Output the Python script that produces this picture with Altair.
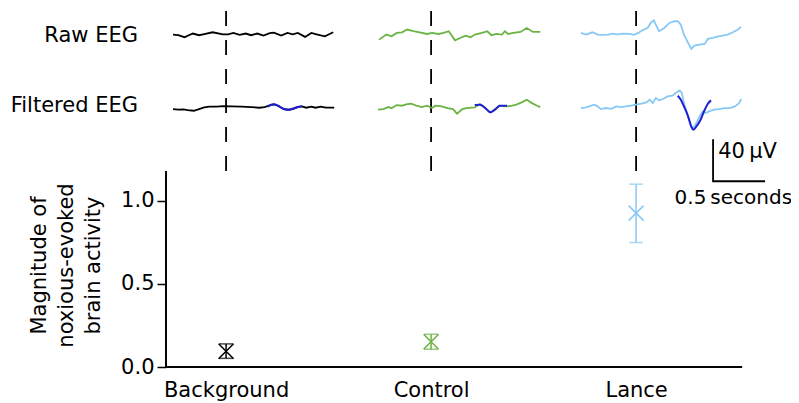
import altair as alt
import pandas as pd

# ---------------- data ----------------
CONDITIONS = ["Background", "Control", "Lance"]
COLORS = ["#000000", "#6ab344", "#87c9f5"]
TEMPLATE_COLOR = "#1f1fd6"

# magnitude of noxious-evoked brain activity (mean and error-bar limits)
MEAN = [0.095, 0.152, 0.926]
LOW = [0.052, 0.107, 0.749]
HIGH = [0.139, 0.197, 1.10]

ROW_NAMES = ["Raw EEG", "Filtered EEG"]

# EEG traces: time (s, relative to stimulus) and voltage (µV)
BG_RAW_T = [-0.51, -0.46, -0.40, -0.32, -0.26, -0.22, -0.13, -0.03, 0.02, 0.07, 0.13, 0.19, 0.24,
            0.30, 0.36, 0.42, 0.46, 0.53, 0.59, 0.64, 0.69, 0.76, 0.82, 0.87, 0.95, 1.03]
BG_RAW_V = [0.0, -0.6, -2.5, 1.0, -0.6, 0.3, 2.2, 0.3, 0.3, 1.6, -0.3, 1.0, -0.6,
            1.0, -1.0, 1.3, 1.9, -1.0, 1.6, 0.3, 1.6, -2.2, 1.6, 0.3, -1.6, 2.2]
BG_FILT_T = [-0.51, -0.46, -0.41, -0.37, -0.31, -0.26, -0.21, -0.16, -0.09, -0.03, 0.05, 0.15, 0.24,
             0.32, 0.37, 0.42, 0.46, 0.50, 0.55, 0.60, 0.64, 0.69, 0.73, 0.77, 0.82, 0.86, 0.91, 0.96, 1.04]
BG_FILT_V = [-1.3, -1.9, -1.6, -2.2, -2.9, -1.3, 0.3, 1.0, 1.0, 1.6, 1.3, 1.0, 0.6,
             0.0, 0.6, 2.2, 3.2, 1.9, -1.0, -1.9, -1.3, 0.6, 1.3, 0.0, 1.0, 0.0, 1.0, 0.0, 0.0]
BG_TPL_T = [0.40, 0.42, 0.46, 0.50, 0.55, 0.58, 0.62, 0.66, 0.70, 0.73]
BG_TPL_V = [1.0, 2.2, 3.2, 1.9, -1.0, -1.9, -1.6, -0.3, 1.0, 1.3]

CT_RAW_T = [-0.50, -0.43, -0.38, -0.33, -0.28, -0.23, -0.17, -0.11, -0.04, 0.01, 0.07, 0.12, 0.17, 0.23,
            0.28, 0.33, 0.38, 0.42, 0.49, 0.54, 0.58, 0.63, 0.68, 0.71, 0.74, 0.79, 0.86, 0.92, 0.98, 1.05]
CT_RAW_V = [-4.8, 0.0, -1.6, 1.6, 2.2, 4.8, 3.2, 2.2, 0.6, 1.6, 0.6, 1.6, 3.2, -5.4,
            -3.2, -1.0, -2.5, 0.0, 1.6, 3.2, -0.6, 0.6, 0.0, 3.2, 0.6, 1.6, 2.5, 6.3, 2.5, 2.5]
CT_FILT_T = [-0.51, -0.46, -0.41, -0.38, -0.33, -0.28, -0.23, -0.19, -0.14, -0.09, -0.04, 0.01, 0.04,
             0.10, 0.16, 0.21, 0.25, 0.30, 0.34, 0.42, 0.47, 0.52, 0.57, 0.62, 0.66, 0.73, 0.78, 0.82,
             0.87, 0.92, 0.97, 1.02, 1.05]
CT_FILT_V = [-1.9, -1.3, 0.6, -0.6, 2.5, 1.9, 3.5, 3.8, 1.9, 0.6, 1.9, -0.3, 1.9,
             1.3, -0.3, -1.3, -5.7, -1.3, -0.3, 0.3, 3.5, -0.3, -4.4, -1.3, 1.9, 1.3, 1.9, 2.9,
             5.1, 7.6, 4.4, 1.9, 0.6]
CT_TPL_T = [0.42, 0.47, 0.52, 0.57, 0.62, 0.66, 0.73]
CT_TPL_V = [2.5, 2.9, -0.3, -4.4, -1.3, 1.9, 1.9]

LA_RAW_T = [-0.53, -0.48, -0.42, -0.37, -0.32, -0.27, -0.22, -0.18, -0.13, -0.06, -0.02, 0.02, 0.06,
            0.11, 0.14, 0.17, 0.19, 0.22, 0.27, 0.32, 0.37, 0.40, 0.43, 0.46, 0.50, 0.53, 0.56, 0.61,
            0.66, 0.69, 0.74, 0.79, 0.83, 0.88, 0.93, 0.98, 1.01]
LA_RAW_V = [1.6, 0.0, 2.2, 0.0, -0.3, 0.0, 1.0, 0.3, 1.0, 0.6, -0.3, 1.6, 4.1,
            6.3, 11.1, 13.7, 9.5, 3.2, 6.3, 11.1, 12.7, 12.7, 9.5, 0.0, -7.9, -13.7, -10.5, -9.5,
            -8.9, -4.1, -3.2, -1.6, -1.0, 0.0, 2.2, 4.8, 7.3]
LA_FILT_T = [-0.53, -0.48, -0.43, -0.40, -0.37, -0.34, -0.29, -0.24, -0.19, -0.14, -0.10, -0.05, 0.0,
             0.05, 0.10, 0.13, 0.16, 0.19, 0.22, 0.26, 0.30, 0.35, 0.38, 0.42, 0.44, 0.46, 0.50, 0.53,
             0.55, 0.58, 0.61, 0.64, 0.67, 0.70, 0.75, 0.80, 0.85, 0.90, 0.95, 0.99, 1.01]
LA_FILT_V = [-0.3, 0.3, 1.9, 2.9, 1.3, -1.3, -0.3, -1.0, 1.3, 0.6, 1.3, 1.9, 2.9,
             3.8, 5.1, 7.6, 4.4, 9.2, 7.0, 8.3, 10.8, 11.4, 14.0, 16.5, 14.0, 4.4, -8.3, -17.8,
             -19.4, -14.6, -8.3, -3.5, -5.1, -3.5, -1.9, -1.3, -0.3, -0.3, 1.3, 4.4, 8.3]
LA_TPL_T = [0.40, 0.43, 0.46, 0.50, 0.53, 0.55, 0.58, 0.62, 0.66, 0.69, 0.72]
LA_TPL_V = [11.4, 7.6, 1.3, -8.3, -17.8, -21.0, -17.8, -11.4, -1.9, 3.8, 7.0]

SCALE_SEC = 0.5
SCALE_UV = 40

# ---------------- layout helpers (not data) ----------------
ROW_BASE = [2.0, 1.56]          # vertical position of raw / filtered rows
ROW_LABEL_Y = [1.957, 1.536]
SEC_TO_X = 0.5073               # 1 s of trace in category units
UV_TO_Y = 0.006318              # 1 µV of trace in y units
FONT = "DejaVu Sans"
FS = 21
BAR_T0, BAR_V0 = 0.74, -70.0    # scale-bar corner in the Lance frame
X_MIN, X_AXIS_END, X_MAX = 0.707, 3.517, 3.658
Y_AXIS_TOP = 1.18

SERIES_DOMAIN = CONDITIONS + ["Template", "Scale"]
SERIES_RANGE = COLORS + [TEMPLATE_COLOR, "#000000"]
color_enc = alt.Color("series:N", scale=alt.Scale(domain=SERIES_DOMAIN, range=SERIES_RANGE), legend=None)

xs = alt.Scale(domain=[X_MIN, X_MAX], nice=False, zero=False)
ys = alt.Scale(domain=[0, 2.16], nice=False, zero=False)

label_expr = "[" + ",".join("'" + c + "'" for c in CONDITIONS) + "][datum.value - 1]"
x_axis = alt.Axis(values=[1, 2, 3], labelExpr=label_expr, title=None, ticks=False, grid=False,
                  domain=False, labelPadding=12, labelFontSize=FS,
                  labelColor="black", labelFont=FONT)
y_axis = alt.Axis(values=[0, 0.5, 1.0], format=".1f", domain=False, ticks=True, tickSize=9,
                  tickWidth=1.5, tickColor="black", labelPadding=3, grid=False,
                  labelFontSize=FS, labelColor="black", labelFont=FONT,
                  title=["Magnitude of", "noxious-evoked", "brain activity"],
                  titleAngle=270, titleX=-127, titleY=257, titleBaseline="middle",
                  titleAlign="center", titleFontWeight="normal", titleFontSize=FS,
                  titleFont=FONT, titleColor="black", titleLineHeight=27)

# ---------------- frames ----------------
traces = [
    (1, 0, BG_RAW_T, BG_RAW_V, "Background"), (1, 1, BG_FILT_T, BG_FILT_V, "Background"),
    (2, 0, CT_RAW_T, CT_RAW_V, "Control"), (2, 1, CT_FILT_T, CT_FILT_V, "Control"),
    (3, 0, LA_RAW_T, LA_RAW_V, "Lance"), (3, 1, LA_FILT_T, LA_FILT_V, "Lance"),
    # L-shaped scale bar, drawn as one more trace in the Lance frame
    (3, 1, [BAR_T0, BAR_T0, BAR_T0 + SCALE_SEC],
     [BAR_V0 + SCALE_UV, BAR_V0, BAR_V0], "Scale"),
]
templates = [
    (1, 1, BG_TPL_T, BG_TPL_V, "Template"), (2, 1, CT_TPL_T, CT_TPL_V, "Template"),
    (3, 1, LA_TPL_T, LA_TPL_V, "Template"),
]


def build(items, prefix):
    frames = []
    for k, (idx, row, t, v, s) in enumerate(items):
        frames.append(pd.DataFrame({"idx": idx, "base": ROW_BASE[row], "t": t, "v": v,
                                    "series": s, "trace": f"{prefix}{k}",
                                    "k": list(range(len(t)))}))
    return pd.concat(frames, ignore_index=True)


trace_df = build(traces, "tr")
tpl_df = build(templates, "tp")

err_df = pd.DataFrame({"series": CONDITIONS, "idx": [1, 2, 3], "mean": MEAN, "lo": LOW, "hi": HIGH})
row_df = pd.DataFrame({"name": ROW_NAMES, "y": ROW_LABEL_Y})

ann_df = pd.DataFrame({"idx": [3, 3], "base": [ROW_BASE[1]] * 2,
                       "t": [0.79, 0.935], "v": [-48.0, -92.0],
                       "label": [f"{SCALE_UV}\u2009µV", f"{SCALE_SEC}\u2009seconds"],
                       "align": ["left", "center"]})

pos_x = alt.X("x:Q", scale=xs, axis=x_axis)
pos_y = alt.Y("y:Q", scale=ys, axis=y_axis)

calc = dict(x=f"datum.idx + datum.t * {SEC_TO_X}", y=f"datum.base + datum.v * {UV_TO_Y}")

trace_layer = alt.Chart(trace_df).transform_calculate(**calc).mark_line(
    strokeWidth=1.8, interpolate="linear"
).encode(x=pos_x, y=pos_y, color=color_enc, detail="trace:N", order="k:Q")

tpl_layer = alt.Chart(tpl_df).transform_calculate(**calc).mark_line(
    strokeWidth=2.0, interpolate="monotone"
).encode(x=pos_x, y=pos_y, color=color_enc, detail="trace:N", order="k:Q")

dash_layer = alt.Chart(err_df).mark_rule(strokeDash=[15, 14], strokeWidth=1.8, color="black").encode(
    x=alt.X("idx:Q", scale=xs, axis=x_axis), y=alt.datum(2.142), y2=alt.datum(1.167)
)

yaxis_line = alt.Chart(err_df).mark_rule(strokeWidth=1.5, color="black").encode(
    x=alt.value(0), y=alt.datum(0), y2=alt.datum(Y_AXIS_TOP)
)
xaxis_line = alt.Chart(err_df).mark_rule(strokeWidth=1.5, color="black").encode(
    x=alt.datum(X_MIN), x2=alt.datum(X_AXIS_END), y=alt.datum(0)
)

err_rule = alt.Chart(err_df).mark_rule(strokeWidth=1.5).encode(
    x=alt.X("idx:Q", scale=xs, axis=x_axis), y=alt.Y("lo:Q", scale=ys, axis=y_axis), y2="hi:Q",
    color=color_enc)
cap_lo = alt.Chart(err_df).mark_tick(orient="horizontal", size=14, thickness=1.5).encode(
    x=alt.X("idx:Q", scale=xs, axis=x_axis), y=alt.Y("lo:Q", scale=ys, axis=y_axis), color=color_enc)
cap_hi = alt.Chart(err_df).mark_tick(orient="horizontal", size=14, thickness=1.5).encode(
    x=alt.X("idx:Q", scale=xs, axis=x_axis), y=alt.Y("hi:Q", scale=ys, axis=y_axis), color=color_enc)
marker = alt.Chart(err_df).mark_point(shape="M-1,-1L1,1M-1,1L1,-1", size=225, filled=False,
                                      strokeWidth=1.5, opacity=1).encode(
    x=alt.X("idx:Q", scale=xs, axis=x_axis), y=alt.Y("mean:Q", scale=ys, axis=y_axis), color=color_enc)

ann_left = alt.Chart(ann_df).transform_filter("datum.align == 'left'").transform_calculate(**calc).mark_text(
    align="left", baseline="alphabetic", font=FONT, fontSize=FS, color="black"
).encode(x=pos_x, y=pos_y, text="label:N")
ann_center = alt.Chart(ann_df).transform_filter("datum.align == 'center'").transform_calculate(**calc).mark_text(
    align="center", baseline="alphabetic", font=FONT, fontSize=20, color="black"
).encode(x=pos_x, y=pos_y, text="label:N")

row_labels = alt.Chart(row_df).mark_text(
    align="right", baseline="alphabetic", font=FONT, fontSize=FS, color="black"
).encode(x=alt.value(-28), y=alt.Y("y:Q", scale=ys, axis=y_axis), text="name:N")

chart = alt.layer(
    err_rule, dash_layer, yaxis_line, xaxis_line, cap_lo, cap_hi, marker,
    ann_left, ann_center, row_labels, trace_layer, tpl_layer
).properties(
    width=605, height=359,
    autosize=alt.AutoSizeParams(type="none"),
    padding={"left": 158, "top": 0, "right": 20, "bottom": 36},
).configure_view(strokeWidth=0)

chart.save("out.html", embed_options={"renderer": "svg", "actions": False})
